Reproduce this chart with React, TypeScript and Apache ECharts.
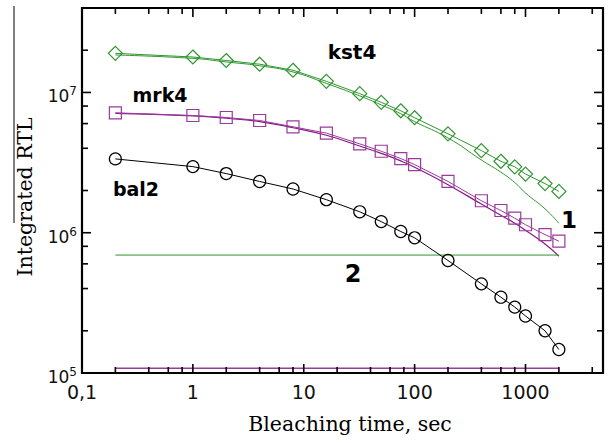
import React, { useEffect, useRef } from "react";
import * as echarts from "echarts";

// ---- data ----
const times = [0.2, 1, 2, 4, 8, 16, 32, 50, 75, 100, 200, 400, 600, 800, 1000, 1500, 2000];
const kst4 = [1.9e7, 1.79e7, 1.69e7, 1.59e7, 1.44e7, 1.2e7, 9.8e6, 8.5e6, 7.4e6, 6.6e6, 5.07e6, 3.85e6, 3.23e6, 2.95e6, 2.62e6, 2.24e6, 1.97e6];
const kst4Fit = [1.85e7, 1.75e7, 1.65e7, 1.55e7, 1.4e7, 1.16e7, 9.45e6, 8.15e6, 7.05e6, 6.2e6, 4.74e6, 3.3e6, 2.7e6, 2.28e6, 1.92e6, 1.48e6, 1.17e6];
const mrk4 = [7.16e6, 6.85e6, 6.63e6, 6.31e6, 5.69e6, 5.13e6, 4.3e6, 3.81e6, 3.38e6, 3.06e6, 2.32e6, 1.69e6, 1.44e6, 1.27e6, 1.14e6, 9.7e5, 8.7e5];
const mrk4Fit = [7.1e6, 6.8e6, 6.55e6, 6.2e6, 5.6e6, 4.95e6, 4.15e6, 3.68e6, 3.25e6, 2.93e6, 2.2e6, 1.6e6, 1.33e6, 1.17e6, 1.04e6, 8.3e5, 6.8e5];
const bal2 = [3.36e6, 2.96e6, 2.64e6, 2.32e6, 2.05e6, 1.72e6, 1.41e6, 1.2e6, 1.02e6, 9.2e5, 6.34e5, 4.32e5, 3.47e5, 2.95e5, 2.55e5, 2.0e5, 1.47e5];
const level2 = [6.93e5, 6.93e5];
const levelPurple = [1.08e5, 1.08e5];
const levelTimes = [0.2, 2000];

const X_MIN = 0.1;
const X_MAX = 5000;
const Y_MIN = 1e5;
const Y_MAX = 4e7;
const xMajorTicks = [0.1, 1, 10, 100, 1000];
const xMinorTicks = [0.2, 0.4, 0.6, 0.8, 2, 4, 6, 8, 20, 40, 60, 80, 200, 400, 600, 800, 2000, 4000];
const yMajorTicks = [1e5, 1e6, 1e7];
const yMinorTicks = [2e5, 4e5, 6e5, 8e5, 2e6, 4e6, 6e6, 8e6, 2e7];

const GREEN = "#2f962f";
const PURPLE = "#9b3a9b";
const PURPLE_FIT = "#861a86";
const SANS = '"DejaVu Sans", sans-serif';
const SERIF = '"DejaVu Serif", serif';

const pairs = (xs: number[], ys: number[]) => xs.map((x, i) => [x, ys[i]]);

export default function App() {
  const ref = useRef<HTMLDivElement>(null);
  useEffect(() => {
    document.body.style.margin = "0";
    const chart = echarts.init(ref.current!, undefined, { renderer: "svg" });
    const markerSeries = (data: number[], symbol: string, size: number, color: string, z = 5) => ({
      type: "line",
      data: pairs(times, data),
      symbol,
      symbolSize: size,
      showSymbol: true,
      lineStyle: { color, width: 1 },
      itemStyle: { color: "rgba(0,0,0,0)", borderColor: color, borderWidth: 1.2 },
      emphasis: { disabled: true },
      z,
    });
    const plainLine = (xs: number[], ys: number[], color: string, width: number, smooth: boolean) => ({
      type: "line",
      data: pairs(xs, ys),
      symbol: "none",
      smooth,
      lineStyle: { color, width },
      emphasis: { disabled: true },
      z: 3,
    });
    const tickSeries = (data: number[][], isX: boolean) => ({
      type: "custom",
      data,
      z: 10,
      silent: true,
      renderItem: (_p: any, api: any) => {
        const major = api.value(2) === 1;
        const len = major ? 9 : 6;
        const style = { stroke: "#000", lineWidth: 1.6 };
        if (isX) {
          const v = api.value(0);
          const a = api.coord([v, Y_MIN]);
          const b = api.coord([v, Y_MAX]);
          return {
            type: "group",
            children: [
              { type: "line", shape: { x1: a[0], y1: a[1], x2: a[0], y2: a[1] - len }, style },
              { type: "line", shape: { x1: b[0], y1: b[1], x2: b[0], y2: b[1] + len }, style },
            ],
          };
        }
        const v = api.value(1);
        const a = api.coord([X_MIN, v]);
        const b = api.coord([X_MAX, v]);
        return {
          type: "group",
          children: [
            { type: "line", shape: { x1: a[0], y1: a[1], x2: a[0] + len, y2: a[1] }, style },
            { type: "line", shape: { x1: b[0], y1: b[1], x2: b[0] - len, y2: b[1] }, style },
          ],
        };
      },
    });
    const xTickData = [
      ...xMajorTicks.map((v) => [v, Y_MIN, 1]),
      ...xMinorTicks.map((v) => [v, Y_MIN, 0]),
    ];
    const yTickData = [
      ...yMajorTicks.map((v) => [X_MIN, v, 1]),
      ...yMinorTicks.map((v) => [X_MIN, v, 0]),
    ];
    const txt = (text: string, x: number, y: number, size: number, bold = true, family = SANS, rotation = 0) => ({
      type: "text",
      x,
      y,
      rotation,
      z: 20,
      style: {
        text,
        fontSize: size,
        fontWeight: bold ? "bold" : "normal",
        fontFamily: family,
        fill: "#000",
        align: "center",
        verticalAlign: "middle",
      },
    });
    chart.setOption({
      animation: false,
      grid: { left: 82, right: 7, top: 8, bottom: 70, show: true, borderColor: "#000", borderWidth: 2.2, backgroundColor: "transparent" },
      xAxis: {
        type: "log",
        logBase: 10,
        min: X_MIN,
        max: X_MAX,
        axisLine: { show: false },
        axisTick: { show: false },
        splitLine: { show: false },
        axisLabel: {
          interval: 0,
          showMaxLabel: false,
          margin: 9,
          fontSize: 19,
          fontFamily: SANS,
          color: "#111",
          formatter: (v: number) => (Math.abs(v - 0.1) < 1e-9 ? "0,1" : String(Math.round(v))),
        },
      },
      yAxis: {
        type: "log",
        logBase: 10,
        min: Y_MIN,
        max: Y_MAX,
        axisLine: { show: false },
        axisTick: { show: false },
        splitLine: { show: false },
        axisLabel: {
          interval: 0,
          showMaxLabel: false,
          margin: 5,
          padding: [8, 0, 0, 0],
          formatter: (v: number) => `{b|10}{s|${Math.round(Math.log10(v))}}`,
          rich: {
            b: { fontSize: 17, fontFamily: SANS, color: "#111", lineHeight: 22 },
            s: { fontSize: 12, fontFamily: SANS, color: "#111", lineHeight: 11, verticalAlign: "top" },
          },
        },
      },
      series: [
        plainLine(times, kst4Fit, GREEN, 1, true),
        plainLine(times, mrk4Fit, PURPLE_FIT, 1.2, true),
        plainLine(levelTimes, level2, GREEN, 1, false),
        plainLine(levelTimes, levelPurple, PURPLE, 1.5, false),
        markerSeries(kst4, "diamond", 14, GREEN),
        markerSeries(mrk4, "rect", 12, PURPLE),
        markerSeries(bal2, "circle", 12, "#000"),
        tickSeries(xTickData, true),
        tickSeries(yTickData, false),
      ],
      graphic: [
        txt("kst4", 352, 52, 20),
        txt("mrk4", 160, 95, 19),
        txt("bal2", 136, 189, 19),
        txt("1", 569, 220, 23),
        txt("2", 353, 274, 24),
        txt("Bleaching time, sec", 350, 424, 20.5, false, SERIF),
        txt("Integrated RTL", 25, 197, 20.5, false, SERIF, Math.PI / 2),
        { type: "line", z: 20, shape: { x1: 14, y1: 6, x2: 14, y2: 223 }, style: { stroke: "#000", lineWidth: 1 } },
      ],
    });
    return () => chart.dispose();
  }, []);
  return <div ref={ref} style={{ width: 610, height: 443 }} />;
}
